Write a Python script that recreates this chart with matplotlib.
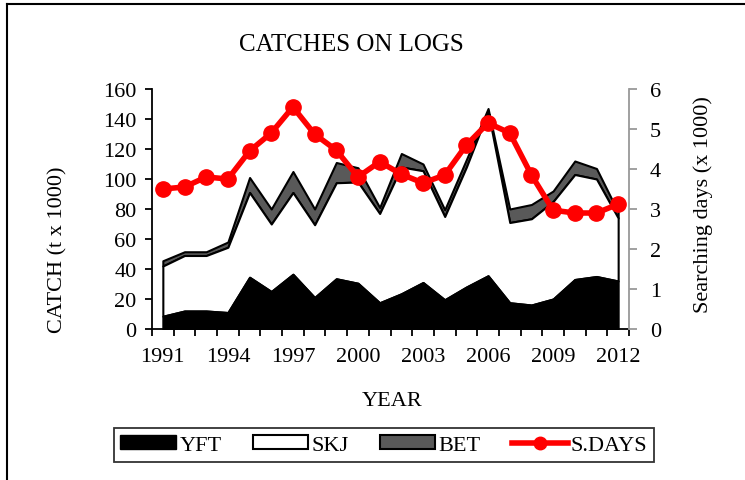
import numpy as np
import matplotlib
matplotlib.use("Agg")
import matplotlib.pyplot as plt
from matplotlib.lines import Line2D
from matplotlib.patches import Patch

plt.rcParams["font.family"] = ["Liberation Serif", "DejaVu Serif"]

# --- data (t x 1000, searching days x 1000)
years  = list(range(1991, 2013))
yft    = [8.5, 12, 12, 11, 34.5, 25, 36.5, 21, 33.5, 30.5, 17.5,
          23.5, 31, 19.5, 28, 35.5, 17.5, 16, 20, 33, 35, 32]
skj    = [33.5, 37, 37, 43.5, 56.5, 45, 54.5, 48.5, 64, 67.5, 59.5,
          84.5, 74.5, 55.5, 80, 109.5, 53.5, 57.5, 65, 70, 65, 42]
bet    = [3.5, 2.5, 2.5, 3.5, 10, 10, 14, 10.5, 13.5, 9.5, 4,
          9, 4.5, 4.5, 5, 2, 9, 9.5, 7, 9, 7, 4]
s_days = [3.5, 3.55, 3.8, 3.75, 4.45, 4.9, 5.55, 4.87, 4.47, 3.8, 4.18,
          3.87, 3.65, 3.85, 4.6, 5.15, 4.9, 3.85, 2.97, 2.9, 2.9, 3.12]

# --- setup
fig = plt.figure(figsize=(7.45, 4.81), dpi=100)
ax = fig.add_axes([152/745, 1-330/481, (629-152)/745, 240/481])
ax2 = ax.twinx()
fs = 16
x = np.arange(len(years))

y1 = np.array(yft)
y2 = y1 + np.array(skj)
y3 = y2 + np.array(bet)

# --- stacked areas
ax.fill_between(x, 0, y1, facecolor="black", edgecolor="black", lw=1.5, zorder=3)
ax.fill_between(x, y1, y2, facecolor="white", edgecolor="black", lw=1.5, zorder=2)
ax.fill_between(x, y2, y3, facecolor="#595959", edgecolor="black", lw=1.5, zorder=1)

# --- searching days
ax2.plot(x, s_days, color="red", lw=4, marker="o", ms=11, zorder=5)

# --- axes
ax.set_xlim(-0.5, len(years) - 0.5)
ax.set_ylim(0, 160)
ax.set_yticks(np.arange(0, 161, 20))
ax2.set_ylim(0, 6)
ax2.set_yticks(np.arange(0, 7, 1))

ax.set_xticks(np.arange(-0.5, len(years), 1))
ax.set_xticklabels([])
ax.set_xticks(x[::3], minor=True)
ax.set_xticklabels([str(y) for y in years[::3]], minor=True, fontsize=fs)
ax.tick_params(axis="x", which="major", direction="out", length=5, width=1.3)
ax.tick_params(axis="x", which="minor", length=0, pad=13)
ax.tick_params(axis="y", direction="out", length=5, width=1.3, labelsize=fs, pad=6)
ax2.tick_params(axis="y", direction="out", length=6, width=1.3, colors="#999999",
                labelcolor="black", labelsize=fs, pad=9)

for sp in ["top", "right"]:
    ax.spines[sp].set_visible(False)
for sp in ["top", "left", "bottom"]:
    ax2.spines[sp].set_visible(False)
ax.spines["left"].set_linewidth(1.3)
ax.spines["bottom"].set_linewidth(1.3)
ax2.spines["right"].set_color("#999999")
ax2.spines["right"].set_linewidth(1.3)

# --- labels
fig.text(351/745, 1-45/481, "CATCHES ON LOGS", ha="center", va="center", fontsize=18)
fig.text(58/745, 1-250/481, "CATCH (t x 1000)", rotation=90, ha="center", va="center", fontsize=fs)
fig.text(703/745, 1-205/481, "Searching days (x 1000)", rotation=90, ha="center", va="center", fontsize=fs)
fig.text(392/745, 1-402/481, "YEAR", ha="center", va="center", fontsize=fs)

# --- legend
handles = [Patch(facecolor="black", edgecolor="black"),
           Patch(facecolor="white", edgecolor="black", lw=1.5),
           Patch(facecolor="#595959", edgecolor="black", lw=1.5),
           Line2D([], [], color="red", lw=4, marker="o", ms=9)]
leg = fig.legend(handles, ["YFT", "SKJ", "BET", "S.DAYS"], ncol=4,
                 loc="center", bbox_to_anchor=(384/745, 1-446/481),
                 fontsize=fs, frameon=True, fancybox=False, edgecolor="black",
                 handlelength=2.5, handleheight=0.6, handletextpad=0.15,
                 columnspacing=1.4, borderpad=0.3, borderaxespad=0)
leg.get_frame().set_linewidth(1.3)

# --- outer frame
fig.add_artist(Line2D([7/745, 7/745], [0, 1-5/481], color="black", lw=1.5,
                      transform=fig.transFigure))
fig.add_artist(Line2D([7/745, 1], [1-5/481, 1-5/481], color="black", lw=1.5,
                      transform=fig.transFigure))

fig.savefig("out.png", dpi=100)
